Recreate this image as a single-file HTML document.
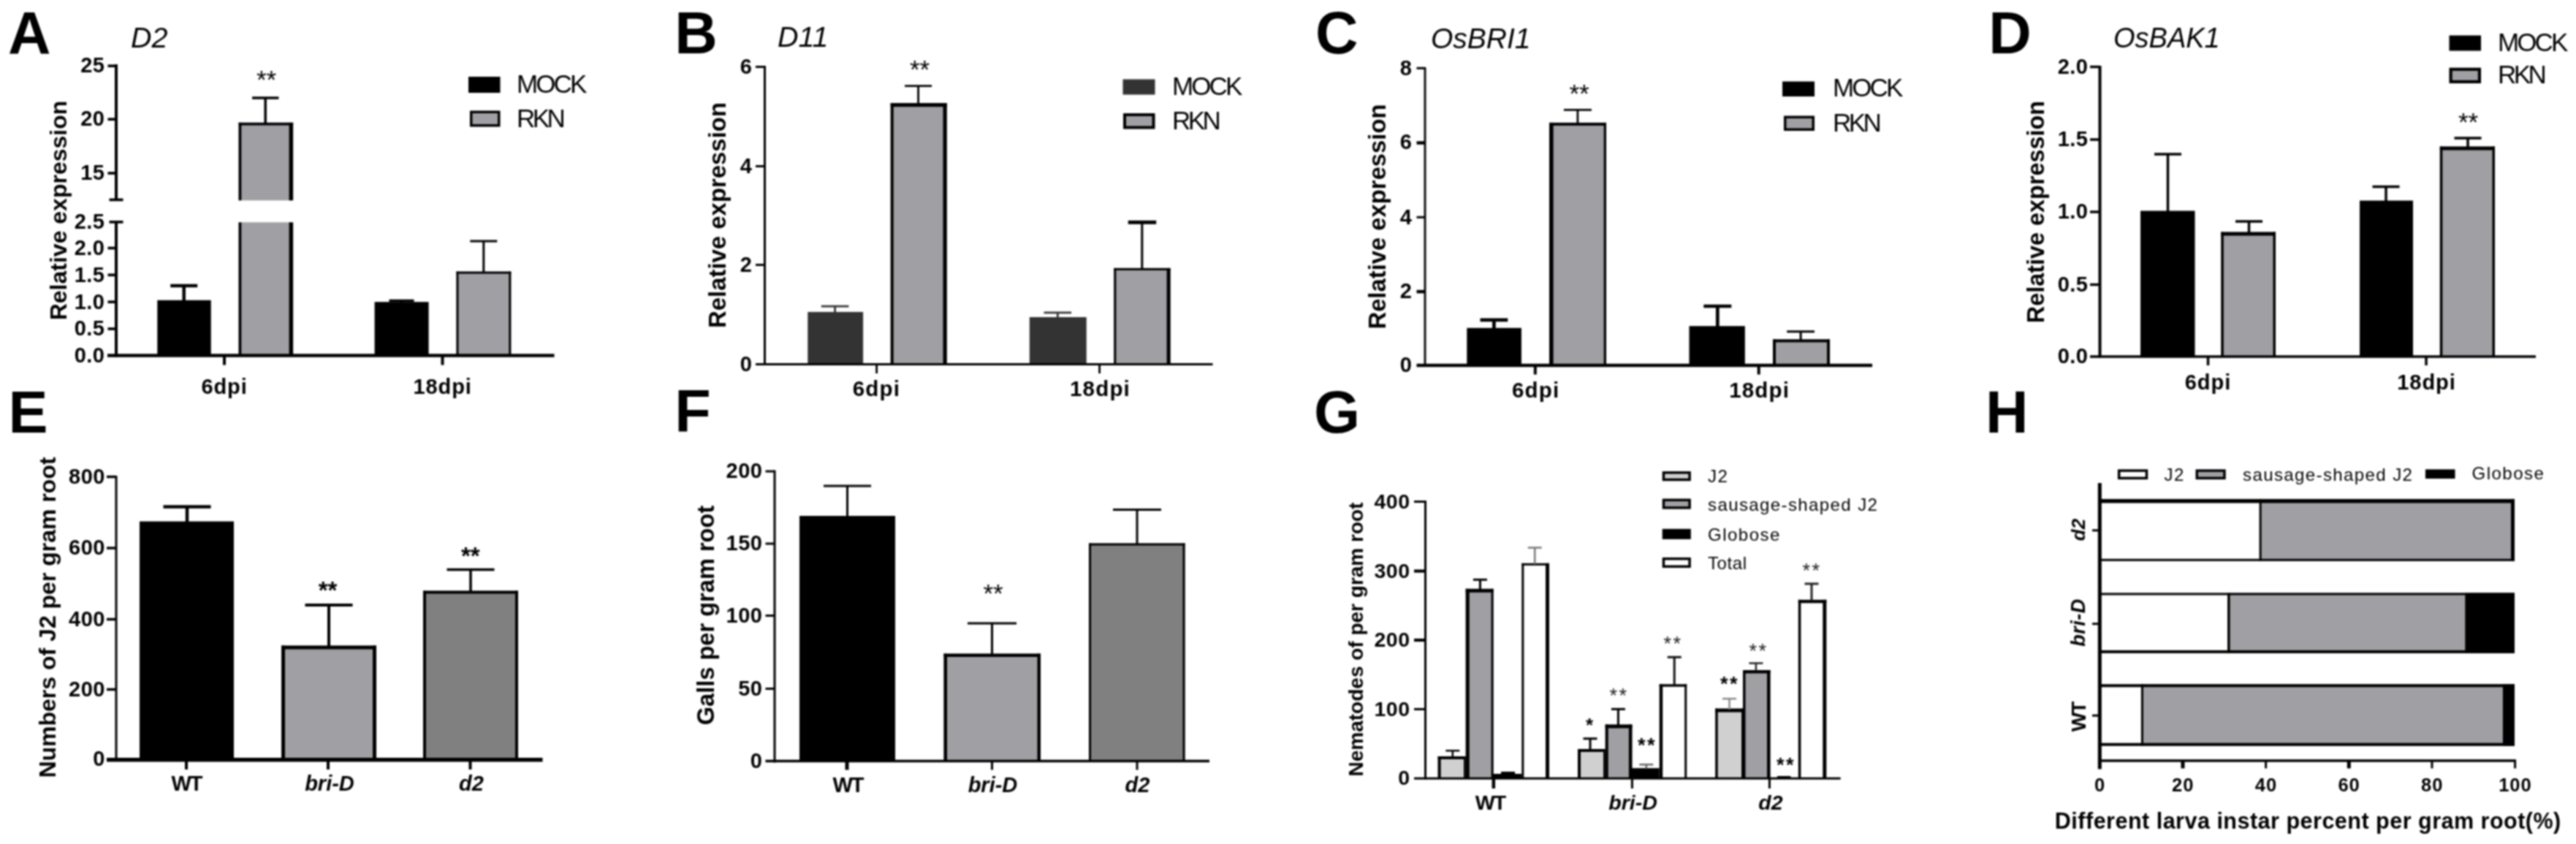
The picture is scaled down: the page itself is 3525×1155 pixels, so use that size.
<!DOCTYPE html>
<html lang="en">
<head>
<meta charset="utf-8">
<title>Figure</title>
<style>
html,body{margin:0;padding:0;background:#fff;}
body{width:3525px;height:1155px;overflow:hidden;}
svg{display:block;font-family:'Liberation Sans', sans-serif;}
</style>
</head>
<body>
<svg width="3525" height="1155" viewBox="0 0 3525 1155">
<rect x="0" y="0" width="3525" height="1155" fill="#fff"/>
<defs><filter id="soft" x="0" y="0" width="3525" height="1155" filterUnits="userSpaceOnUse" color-interpolation-filters="sRGB"><feGaussianBlur stdDeviation="1.0"/></filter></defs>
<g id="fig" filter="url(#soft)">
<text x="40.35" y="72.8" font-size="81" font-weight="bold" text-anchor="middle">A</text>
<text x="179" y="64.5" font-size="39.5" font-style="italic">D2</text>
<rect x="215.3" y="410.8" width="73.4" height="75.7" fill="#000"/>
<rect x="326.6" y="167.8" width="74.5" height="318.7" fill="#a09fa3"/>
<rect x="326.6" y="167.8" width="3.7" height="318.7" fill="#000"/>
<rect x="395.6" y="167.8" width="5.5" height="318.7" fill="#000"/>
<rect x="326.6" y="167.8" width="74.5" height="3.7" fill="#000"/>
<rect x="320" y="274.3" width="90" height="29.9" fill="#fff"/>
<rect x="512.6" y="413.2" width="74" height="73.3" fill="#000"/>
<rect x="624.5" y="371.6" width="74.8" height="114.9" fill="#a09fa3"/>
<rect x="624.5" y="371.6" width="3" height="114.9" fill="#000"/>
<rect x="696.3" y="371.6" width="3" height="114.9" fill="#000"/>
<rect x="624.5" y="371.6" width="74.8" height="3" fill="#000"/>
<line x1="251.7" y1="391" x2="251.7" y2="412" stroke="#000" stroke-width="4.5"/>
<line x1="233.2" y1="391" x2="270.2" y2="391" stroke="#000" stroke-width="4.5"/>
<line x1="363.2" y1="133.9" x2="363.2" y2="169" stroke="#000" stroke-width="3.5"/>
<line x1="345" y1="133.9" x2="381.4" y2="133.9" stroke="#000" stroke-width="3.5"/>
<line x1="549.5" y1="411.5" x2="549.5" y2="414" stroke="#000" stroke-width="3.5"/>
<line x1="532.5" y1="411.5" x2="566.5" y2="411.5" stroke="#000" stroke-width="3.5"/>
<line x1="661.8" y1="330" x2="661.8" y2="373" stroke="#000" stroke-width="3"/>
<line x1="643.3" y1="330" x2="680.3" y2="330" stroke="#000" stroke-width="3"/>
<text x="364.5" y="121.2" font-size="35" text-anchor="middle">**</text>
<line x1="159" y1="88" x2="159" y2="273.5" stroke="#000" stroke-width="4"/>
<line x1="159" y1="304" x2="159" y2="488.5" stroke="#000" stroke-width="4"/>
<line x1="147.5" y1="90.2" x2="159" y2="90.2" stroke="#000" stroke-width="3.7"/>
<line x1="147.5" y1="163.2" x2="159" y2="163.2" stroke="#000" stroke-width="3.7"/>
<line x1="147.5" y1="237" x2="159" y2="237" stroke="#000" stroke-width="3.7"/>
<line x1="149.5" y1="273.4" x2="168.5" y2="273.4" stroke="#000" stroke-width="3.7"/>
<line x1="149.5" y1="303.8" x2="168.5" y2="303.8" stroke="#000" stroke-width="3.7"/>
<line x1="147.5" y1="339.5" x2="159" y2="339.5" stroke="#000" stroke-width="3.7"/>
<line x1="147.5" y1="376.3" x2="159" y2="376.3" stroke="#000" stroke-width="3.7"/>
<line x1="147.5" y1="413.2" x2="159" y2="413.2" stroke="#000" stroke-width="3.7"/>
<line x1="147.5" y1="450" x2="159" y2="450" stroke="#000" stroke-width="3.7"/>
<line x1="147" y1="486.5" x2="758.5" y2="486.5" stroke="#000" stroke-width="4.6"/>
<line x1="307" y1="486.5" x2="307" y2="499.5" stroke="#000" stroke-width="4"/>
<line x1="605.5" y1="486.5" x2="605.5" y2="499.5" stroke="#000" stroke-width="4"/>
<text x="143.5" y="99.18" font-size="29" font-weight="bold" text-anchor="end" letter-spacing="0.5">25</text>
<text x="143.5" y="172.18" font-size="29" font-weight="bold" text-anchor="end" letter-spacing="0.5">20</text>
<text x="143.5" y="245.68" font-size="29" font-weight="bold" text-anchor="end" letter-spacing="0.5">15</text>
<text x="143.5" y="313.18" font-size="29" font-weight="bold" text-anchor="end" letter-spacing="0.5">2.5</text>
<text x="143.5" y="349.18" font-size="29" font-weight="bold" text-anchor="end" letter-spacing="0.5">2.0</text>
<text x="143.5" y="385.68" font-size="29" font-weight="bold" text-anchor="end" letter-spacing="0.5">1.5</text>
<text x="143.5" y="422.68" font-size="29" font-weight="bold" text-anchor="end" letter-spacing="0.5">1.0</text>
<text x="143.5" y="459.18" font-size="29" font-weight="bold" text-anchor="end" letter-spacing="0.5">0.5</text>
<text x="143.5" y="495.68" font-size="29" font-weight="bold" text-anchor="end" letter-spacing="0.5">0.0</text>
<text x="307" y="538.5" font-size="29" font-weight="bold" text-anchor="middle" letter-spacing="0.9">6dpi</text>
<text x="605.7" y="538.5" font-size="29" font-weight="bold" text-anchor="middle" letter-spacing="0.9">18dpi</text>
<text x="91" y="288" font-size="32" font-weight="bold" text-anchor="middle" transform="rotate(-90 91 288)">Relative expression</text>
<rect x="641" y="105" width="43.5" height="22" fill="#000"/>
<text x="707" y="127.4" font-size="35" letter-spacing="-2.9">MOCK</text>
<rect x="644.75" y="153.25" width="38" height="18.5" fill="#a09fa3" stroke="#000" stroke-width="3.5"/>
<text x="707" y="174" font-size="35" letter-spacing="-3.5">RKN</text>
<text x="952.4" y="72.8" font-size="81" font-weight="bold" text-anchor="middle">B</text>
<text x="1064" y="64.3" font-size="39.5" font-style="italic">D11</text>
<rect x="1105.3" y="426.9" width="75.8" height="71.6" fill="#333333"/>
<rect x="1218.7" y="141" width="77" height="357.5" fill="#a09fa3"/>
<rect x="1218.7" y="141" width="4" height="357.5" fill="#000"/>
<rect x="1290.5" y="141" width="5.2" height="357.5" fill="#000"/>
<rect x="1218.7" y="141" width="77" height="5.2" fill="#000"/>
<rect x="1408.8" y="434" width="77.9" height="64.5" fill="#333333"/>
<rect x="1524.3" y="366.9" width="77.3" height="131.6" fill="#a09fa3"/>
<rect x="1524.3" y="366.9" width="3" height="131.6" fill="#000"/>
<rect x="1596.6" y="366.9" width="5" height="131.6" fill="#000"/>
<rect x="1524.3" y="366.9" width="77.3" height="3" fill="#000"/>
<line x1="1142.6" y1="419.2" x2="1142.6" y2="428" stroke="#333" stroke-width="2.8"/>
<line x1="1123.8" y1="419.2" x2="1161.4" y2="419.2" stroke="#333" stroke-width="2.8"/>
<line x1="1256.6" y1="117.6" x2="1256.6" y2="143" stroke="#000" stroke-width="2.8"/>
<line x1="1238.1" y1="117.6" x2="1275.1" y2="117.6" stroke="#000" stroke-width="2.8"/>
<line x1="1447.3" y1="427.9" x2="1447.3" y2="435" stroke="#333" stroke-width="2.8"/>
<line x1="1428.5" y1="427.9" x2="1466.1" y2="427.9" stroke="#333" stroke-width="2.8"/>
<line x1="1562.8" y1="304" x2="1562.8" y2="369" stroke="#000" stroke-width="3"/>
<line x1="1543.7" y1="304.3" x2="1582.2" y2="304.3" stroke="#000" stroke-width="5"/>
<text x="1258.5" y="107" font-size="35" text-anchor="middle">**</text>
<line x1="1046.5" y1="90" x2="1046.5" y2="500" stroke="#000" stroke-width="3"/>
<line x1="1034" y1="91.5" x2="1046.5" y2="91.5" stroke="#000" stroke-width="3"/>
<line x1="1034" y1="227.5" x2="1046.5" y2="227.5" stroke="#000" stroke-width="3"/>
<line x1="1034" y1="362.5" x2="1046.5" y2="362.5" stroke="#000" stroke-width="3"/>
<line x1="1034" y1="498.5" x2="1659.5" y2="498.5" stroke="#000" stroke-width="2.8"/>
<line x1="1199.6" y1="498.5" x2="1199.6" y2="511" stroke="#000" stroke-width="2.8"/>
<line x1="1504.6" y1="498.5" x2="1504.6" y2="511" stroke="#000" stroke-width="2.8"/>
<text x="1029.5" y="100.68" font-size="29" font-weight="bold" text-anchor="end" letter-spacing="0.5">6</text>
<text x="1029.5" y="236.68" font-size="29" font-weight="bold" text-anchor="end" letter-spacing="0.5">4</text>
<text x="1029.5" y="371.68" font-size="29" font-weight="bold" text-anchor="end" letter-spacing="0.5">2</text>
<text x="1029.5" y="507.68" font-size="29" font-weight="bold" text-anchor="end" letter-spacing="0.5">0</text>
<text x="1199.5" y="542.3" font-size="29.5" font-weight="bold" text-anchor="middle" letter-spacing="1.2">6dpi</text>
<text x="1505.5" y="542.3" font-size="29.5" font-weight="bold" text-anchor="middle" letter-spacing="1.2">18dpi</text>
<text x="993" y="294.5" font-size="32.9" font-weight="bold" text-anchor="middle" transform="rotate(-90 993 294.5)">Relative expression</text>
<rect x="1536.5" y="108.5" width="44" height="21" fill="#333333"/>
<text x="1604" y="129.9" font-size="35" letter-spacing="-2.9">MOCK</text>
<rect x="1539" y="157" width="39.5" height="17.5" fill="#a09fa3" stroke="#000" stroke-width="4"/>
<text x="1604" y="177" font-size="35" letter-spacing="-3.5">RKN</text>
<text x="1829.25" y="72.8" font-size="81" font-weight="bold" text-anchor="middle">C</text>
<text x="1958" y="65.5" font-size="39" font-style="italic">OsBRI1</text>
<rect x="2007.3" y="448.8" width="74.6" height="51.2" fill="#000"/>
<rect x="2120" y="167.9" width="78" height="332.1" fill="#a09fa3"/>
<rect x="2120" y="167.9" width="5.6" height="332.1" fill="#000"/>
<rect x="2194.7" y="167.9" width="3.3" height="332.1" fill="#000"/>
<rect x="2120" y="167.9" width="78" height="4" fill="#000"/>
<rect x="2311.5" y="446.2" width="76.3" height="53.8" fill="#000"/>
<rect x="2426" y="464.4" width="78" height="35.6" fill="#a09fa3"/>
<rect x="2426" y="464.4" width="4" height="35.6" fill="#000"/>
<rect x="2500" y="464.4" width="4" height="35.6" fill="#000"/>
<rect x="2426" y="464.4" width="78" height="4" fill="#000"/>
<line x1="2044.4" y1="437.9" x2="2044.4" y2="450" stroke="#000" stroke-width="4.7"/>
<line x1="2025.5" y1="437.9" x2="2063.3" y2="437.9" stroke="#000" stroke-width="4.7"/>
<line x1="2158.9" y1="150.3" x2="2158.9" y2="170" stroke="#000" stroke-width="2.8"/>
<line x1="2139.9" y1="150.3" x2="2177.9" y2="150.3" stroke="#000" stroke-width="2.8"/>
<line x1="2350.3" y1="419" x2="2350.3" y2="447" stroke="#000" stroke-width="4.7"/>
<line x1="2331.3" y1="419" x2="2369.3" y2="419" stroke="#000" stroke-width="4.7"/>
<line x1="2464.1" y1="453.8" x2="2464.1" y2="466" stroke="#000" stroke-width="3"/>
<line x1="2445.2" y1="453.8" x2="2483" y2="453.8" stroke="#000" stroke-width="3"/>
<text x="2161" y="139.5" font-size="35" text-anchor="middle">**</text>
<line x1="1950" y1="92" x2="1950" y2="502" stroke="#000" stroke-width="2.8"/>
<line x1="1938.5" y1="93.3" x2="1950" y2="93.3" stroke="#000" stroke-width="3"/>
<line x1="1938.5" y1="195.5" x2="1950" y2="195.5" stroke="#000" stroke-width="4.5"/>
<line x1="1938.5" y1="297.3" x2="1950" y2="297.3" stroke="#000" stroke-width="3"/>
<line x1="1938.5" y1="399.1" x2="1950" y2="399.1" stroke="#000" stroke-width="4.5"/>
<line x1="1938.5" y1="500" x2="2562" y2="500" stroke="#000" stroke-width="4.7"/>
<line x1="2100.8" y1="500" x2="2100.8" y2="512.5" stroke="#000" stroke-width="4"/>
<line x1="2406.7" y1="500" x2="2406.7" y2="512.5" stroke="#000" stroke-width="4"/>
<text x="1932.5" y="102.68" font-size="29" font-weight="bold" text-anchor="end" letter-spacing="0.5">8</text>
<text x="1932.5" y="204.18" font-size="29" font-weight="bold" text-anchor="end" letter-spacing="0.5">6</text>
<text x="1932.5" y="306.68" font-size="29" font-weight="bold" text-anchor="end" letter-spacing="0.5">4</text>
<text x="1932.5" y="408.18" font-size="29" font-weight="bold" text-anchor="end" letter-spacing="0.5">2</text>
<text x="1932.5" y="509.18" font-size="29" font-weight="bold" text-anchor="end" letter-spacing="0.5">0</text>
<text x="2101.7" y="543.8" font-size="29.5" font-weight="bold" text-anchor="middle" letter-spacing="1.2">6dpi</text>
<text x="2407.7" y="543.8" font-size="29.5" font-weight="bold" text-anchor="middle" letter-spacing="1.2">18dpi</text>
<text x="1896.3" y="296.5" font-size="32.8" font-weight="bold" text-anchor="middle" transform="rotate(-90 1896.3 296.5)">Relative expression</text>
<rect x="2439" y="111.5" width="44" height="20.5" fill="#000"/>
<text x="2508" y="132.4" font-size="35" letter-spacing="-2.9">MOCK</text>
<rect x="2442.75" y="160.25" width="38.5" height="17" fill="#a09fa3" stroke="#000" stroke-width="3.5"/>
<text x="2508" y="179.5" font-size="35" letter-spacing="-3.5">RKN</text>
<text x="2750.5" y="72.8" font-size="81" font-weight="bold" text-anchor="middle">D</text>
<text x="2892" y="65" font-size="38" font-style="italic">OsBAK1</text>
<rect x="2929" y="288.5" width="74.5" height="199.5" fill="#000"/>
<rect x="3039.3" y="317.5" width="74.7" height="170.5" fill="#a09fa3"/>
<rect x="3039.3" y="317.5" width="3.5" height="170.5" fill="#000"/>
<rect x="3110.5" y="317.5" width="3.5" height="170.5" fill="#000"/>
<rect x="3039.3" y="317.5" width="74.7" height="5" fill="#000"/>
<rect x="3229" y="274.5" width="73" height="213.5" fill="#000"/>
<rect x="3338.8" y="200.5" width="75.2" height="287.5" fill="#a09fa3"/>
<rect x="3338.8" y="200.5" width="3.5" height="287.5" fill="#000"/>
<rect x="3410.5" y="200.5" width="3.5" height="287.5" fill="#000"/>
<rect x="3338.8" y="200.5" width="75.2" height="5" fill="#000"/>
<line x1="2966.5" y1="211" x2="2966.5" y2="290" stroke="#000" stroke-width="3.5"/>
<line x1="2948" y1="211" x2="2985" y2="211" stroke="#000" stroke-width="3.5"/>
<line x1="3077.5" y1="303" x2="3077.5" y2="320" stroke="#000" stroke-width="3.5"/>
<line x1="3059" y1="303" x2="3096" y2="303" stroke="#000" stroke-width="3.5"/>
<line x1="3265" y1="255.5" x2="3265" y2="276" stroke="#000" stroke-width="3.5"/>
<line x1="3246.5" y1="255.5" x2="3283.5" y2="255.5" stroke="#000" stroke-width="3.5"/>
<line x1="3377" y1="189" x2="3377" y2="203" stroke="#000" stroke-width="3.5"/>
<line x1="3358.5" y1="189" x2="3395.5" y2="189" stroke="#000" stroke-width="3.5"/>
<text x="3377.5" y="179" font-size="35" text-anchor="middle">**</text>
<line x1="2873.5" y1="90" x2="2873.5" y2="489.5" stroke="#000" stroke-width="4"/>
<line x1="2860" y1="91.5" x2="2873.5" y2="91.5" stroke="#000" stroke-width="3.5"/>
<line x1="2860" y1="191" x2="2873.5" y2="191" stroke="#000" stroke-width="3.5"/>
<line x1="2860" y1="290" x2="2873.5" y2="290" stroke="#000" stroke-width="3.5"/>
<line x1="2860" y1="389.5" x2="2873.5" y2="389.5" stroke="#000" stroke-width="3.5"/>
<line x1="2860" y1="488" x2="3470" y2="488" stroke="#000" stroke-width="3.5"/>
<line x1="3021.5" y1="488" x2="3021.5" y2="500" stroke="#000" stroke-width="3.5"/>
<line x1="3320" y1="488" x2="3320" y2="500" stroke="#000" stroke-width="3.5"/>
<text x="2857.5" y="100.68" font-size="29" font-weight="bold" text-anchor="end" letter-spacing="0.5">2.0</text>
<text x="2857.5" y="200.18" font-size="29" font-weight="bold" text-anchor="end" letter-spacing="0.5">1.5</text>
<text x="2857.5" y="299.18" font-size="29" font-weight="bold" text-anchor="end" letter-spacing="0.5">1.0</text>
<text x="2857.5" y="398.68" font-size="29" font-weight="bold" text-anchor="end" letter-spacing="0.5">0.5</text>
<text x="2857.5" y="497.18" font-size="29" font-weight="bold" text-anchor="end" letter-spacing="0.5">0.0</text>
<text x="3021.5" y="532.5" font-size="29" font-weight="bold" text-anchor="middle" letter-spacing="1">6dpi</text>
<text x="3320.5" y="532.5" font-size="29" font-weight="bold" text-anchor="middle" letter-spacing="1">18dpi</text>
<text x="2797" y="290" font-size="32.4" font-weight="bold" text-anchor="middle" transform="rotate(-90 2797 290)">Relative expression</text>
<rect x="3351.5" y="48.5" width="43.5" height="21" fill="#000"/>
<text x="3418" y="69.9" font-size="35" letter-spacing="-2.9">MOCK</text>
<rect x="3353.6" y="94.8" width="39.3" height="17.1" fill="#a09fa3" stroke="#000" stroke-width="4.2"/>
<text x="3418" y="113.5" font-size="35" letter-spacing="-3.5">RKN</text>
<text x="38.5" y="591.5" font-size="81" font-weight="bold" text-anchor="middle">E</text>
<rect x="191" y="713.5" width="129" height="326.2" fill="#000"/>
<rect x="385" y="883.5" width="130" height="156.2" fill="#a09fa3"/>
<rect x="385" y="883.5" width="5" height="156.2" fill="#000"/>
<rect x="510" y="883.5" width="5" height="156.2" fill="#000"/>
<rect x="385" y="883.5" width="130" height="5" fill="#000"/>
<rect x="579" y="808.5" width="130" height="231.2" fill="#808080"/>
<rect x="579" y="808.5" width="4" height="231.2" fill="#000"/>
<rect x="705" y="808.5" width="4" height="231.2" fill="#000"/>
<rect x="579" y="808.5" width="130" height="4" fill="#000"/>
<line x1="256" y1="693.5" x2="256" y2="715" stroke="#000" stroke-width="4.5"/>
<line x1="223.5" y1="693.5" x2="288.5" y2="693.5" stroke="#000" stroke-width="4.5"/>
<line x1="450" y1="828" x2="450" y2="885" stroke="#000" stroke-width="4"/>
<line x1="417.5" y1="828" x2="482.5" y2="828" stroke="#000" stroke-width="4"/>
<line x1="644" y1="779.5" x2="644" y2="810" stroke="#000" stroke-width="3.5"/>
<line x1="611.5" y1="779.5" x2="676.5" y2="779.5" stroke="#000" stroke-width="3.5"/>
<text x="448.5" y="819.1" font-size="33" font-weight="bold" text-anchor="middle">**</text>
<text x="643.8" y="771.6" font-size="33" font-weight="bold" text-anchor="middle">**</text>
<line x1="159" y1="651" x2="159" y2="1041.7" stroke="#000" stroke-width="3"/>
<line x1="146" y1="652.5" x2="159" y2="652.5" stroke="#000" stroke-width="3.5"/>
<line x1="146" y1="750" x2="159" y2="750" stroke="#000" stroke-width="3.5"/>
<line x1="146" y1="847.5" x2="159" y2="847.5" stroke="#000" stroke-width="3.5"/>
<line x1="146" y1="943.5" x2="159" y2="943.5" stroke="#000" stroke-width="3.5"/>
<line x1="146" y1="1039.7" x2="742.5" y2="1039.7" stroke="#000" stroke-width="5.4"/>
<line x1="255" y1="1039.7" x2="255" y2="1053" stroke="#000" stroke-width="4"/>
<line x1="449" y1="1039.7" x2="449" y2="1053" stroke="#000" stroke-width="4"/>
<line x1="643.5" y1="1039.7" x2="643.5" y2="1053" stroke="#000" stroke-width="4"/>
<text x="144" y="661.68" font-size="29" font-weight="bold" text-anchor="end" letter-spacing="0.5">800</text>
<text x="144" y="759.18" font-size="29" font-weight="bold" text-anchor="end" letter-spacing="0.5">600</text>
<text x="144" y="856.68" font-size="29" font-weight="bold" text-anchor="end" letter-spacing="0.5">400</text>
<text x="144" y="952.68" font-size="29" font-weight="bold" text-anchor="end" letter-spacing="0.5">200</text>
<text x="144" y="1048.18" font-size="29" font-weight="bold" text-anchor="end" letter-spacing="0.5">0</text>
<text x="255" y="1082" font-size="29" font-weight="bold" text-anchor="middle" letter-spacing="-2">WT</text>
<text x="451" y="1082" font-size="29" font-weight="bold" font-style="italic" text-anchor="middle">bri-D</text>
<text x="645" y="1082" font-size="29" font-weight="bold" font-style="italic" text-anchor="middle">d2</text>
<text x="76" y="845" font-size="32" font-weight="bold" text-anchor="middle" transform="rotate(-90 76 845)">Numbers of J2 per gram root</text>
<text x="948" y="591" font-size="81" font-weight="bold" text-anchor="middle">F</text>
<rect x="1094" y="706" width="131" height="335.5" fill="#000"/>
<rect x="1291.5" y="894.5" width="132.5" height="147" fill="#a09fa3"/>
<rect x="1291.5" y="894.5" width="4.5" height="147" fill="#000"/>
<rect x="1419.5" y="894.5" width="4.5" height="147" fill="#000"/>
<rect x="1291.5" y="894.5" width="132.5" height="4.5" fill="#000"/>
<rect x="1490" y="743.5" width="131.5" height="298" fill="#808080"/>
<rect x="1490" y="743.5" width="3" height="298" fill="#000"/>
<rect x="1618.5" y="743.5" width="3" height="298" fill="#000"/>
<rect x="1490" y="743.5" width="131.5" height="3" fill="#000"/>
<line x1="1159.5" y1="665" x2="1159.5" y2="708" stroke="#000" stroke-width="3"/>
<line x1="1127" y1="665" x2="1192" y2="665" stroke="#000" stroke-width="3"/>
<line x1="1357.5" y1="853" x2="1357.5" y2="896" stroke="#000" stroke-width="3"/>
<line x1="1324" y1="853" x2="1391" y2="853" stroke="#000" stroke-width="3"/>
<line x1="1556" y1="697.5" x2="1556" y2="745" stroke="#000" stroke-width="3"/>
<line x1="1523" y1="697.5" x2="1589" y2="697.5" stroke="#000" stroke-width="3"/>
<text x="1359" y="823.5" font-size="35" text-anchor="middle">**</text>
<line x1="1060" y1="643.5" x2="1060" y2="1043.5" stroke="#000" stroke-width="3"/>
<line x1="1047.5" y1="645" x2="1060" y2="645" stroke="#000" stroke-width="3"/>
<line x1="1047.5" y1="744" x2="1060" y2="744" stroke="#000" stroke-width="3"/>
<line x1="1047.5" y1="842.5" x2="1060" y2="842.5" stroke="#000" stroke-width="3"/>
<line x1="1047.5" y1="942.5" x2="1060" y2="942.5" stroke="#000" stroke-width="3"/>
<line x1="1047.5" y1="1041.5" x2="1655" y2="1041.5" stroke="#000" stroke-width="3.3"/>
<line x1="1159" y1="1041.5" x2="1159" y2="1053.5" stroke="#000" stroke-width="5"/>
<line x1="1357.5" y1="1041.5" x2="1357.5" y2="1053.5" stroke="#000" stroke-width="3"/>
<line x1="1556" y1="1041.5" x2="1556" y2="1053.5" stroke="#000" stroke-width="3"/>
<text x="1043.5" y="654.18" font-size="29" font-weight="bold" text-anchor="end" letter-spacing="0.5">200</text>
<text x="1043.5" y="753.18" font-size="29" font-weight="bold" text-anchor="end" letter-spacing="0.5">150</text>
<text x="1043.5" y="851.68" font-size="29" font-weight="bold" text-anchor="end" letter-spacing="0.5">100</text>
<text x="1043.5" y="951.68" font-size="29" font-weight="bold" text-anchor="end" letter-spacing="0.5">50</text>
<text x="1043.5" y="1050.68" font-size="29" font-weight="bold" text-anchor="end" letter-spacing="0.5">0</text>
<text x="1160" y="1083.5" font-size="29" font-weight="bold" text-anchor="middle" letter-spacing="-2">WT</text>
<text x="1358.5" y="1083.5" font-size="29" font-weight="bold" font-style="italic" text-anchor="middle">bri-D</text>
<text x="1556.5" y="1083.5" font-size="29" font-weight="bold" font-style="italic" text-anchor="middle">d2</text>
<text x="976.5" y="842" font-size="32.6" font-weight="bold" text-anchor="middle" transform="rotate(-90 976.5 842)">Galls per gram root</text>
<text x="1829.5" y="591.8" font-size="81" font-weight="bold" text-anchor="middle">G</text>
<rect x="1967.6" y="1035" width="38.4" height="30.3" fill="#d0d0d0"/>
<rect x="1967.6" y="1035" width="4" height="30.3" fill="#000"/>
<rect x="2003" y="1035" width="3" height="30.3" fill="#000"/>
<rect x="1967.6" y="1035" width="38.4" height="4" fill="#000"/>
<rect x="2005.7" y="805.8" width="37.9" height="259.5" fill="#a09fa3"/>
<rect x="2005.7" y="805.8" width="5" height="259.5" fill="#000"/>
<rect x="2040.6" y="805.8" width="3" height="259.5" fill="#000"/>
<rect x="2005.7" y="805.8" width="37.9" height="5" fill="#000"/>
<rect x="2043" y="1059" width="40.6" height="6.3" fill="#000"/>
<rect x="2082.3" y="770.8" width="37.7" height="294.5" fill="#fff"/>
<rect x="2082.3" y="770.8" width="3" height="294.5" fill="#000"/>
<rect x="2115" y="770.8" width="5" height="294.5" fill="#000"/>
<rect x="2082.3" y="770.8" width="37.7" height="3" fill="#000"/>
<rect x="2159" y="1025" width="38" height="40.3" fill="#d0d0d0"/>
<rect x="2159" y="1025" width="4" height="40.3" fill="#000"/>
<rect x="2194" y="1025" width="3" height="40.3" fill="#000"/>
<rect x="2159" y="1025" width="38" height="4" fill="#000"/>
<rect x="2196.7" y="991.5" width="36.7" height="73.8" fill="#a09fa3"/>
<rect x="2196.7" y="991.5" width="4" height="73.8" fill="#000"/>
<rect x="2228.9" y="991.5" width="4.5" height="73.8" fill="#000"/>
<rect x="2196.7" y="991.5" width="36.7" height="5" fill="#000"/>
<rect x="2231.4" y="1051.2" width="41.3" height="14.1" fill="#000"/>
<rect x="2270.7" y="936.3" width="37.5" height="129" fill="#fff"/>
<rect x="2270.7" y="936.3" width="4.5" height="129" fill="#000"/>
<rect x="2305.2" y="936.3" width="3" height="129" fill="#000"/>
<rect x="2270.7" y="936.3" width="37.5" height="3.5" fill="#000"/>
<rect x="2347.2" y="969.6" width="38.8" height="95.7" fill="#d0d0d0"/>
<rect x="2347.2" y="969.6" width="3.5" height="95.7" fill="#000"/>
<rect x="2383" y="969.6" width="3" height="95.7" fill="#000"/>
<rect x="2347.2" y="969.6" width="38.8" height="5" fill="#000"/>
<rect x="2385" y="917" width="37.5" height="148.3" fill="#a09fa3"/>
<rect x="2385" y="917" width="3.5" height="148.3" fill="#000"/>
<rect x="2418" y="917" width="4.5" height="148.3" fill="#000"/>
<rect x="2385" y="917" width="37.5" height="4.5" fill="#000"/>
<rect x="2431.9" y="1062" width="18.5" height="3.3" fill="#000"/>
<rect x="2460.8" y="820.8" width="38.5" height="244.5" fill="#fff"/>
<rect x="2460.8" y="820.8" width="3.5" height="244.5" fill="#000"/>
<rect x="2494.3" y="820.8" width="5" height="244.5" fill="#000"/>
<rect x="2460.8" y="820.8" width="38.5" height="4.5" fill="#000"/>
<line x1="1987.8" y1="1027.3" x2="1987.8" y2="1036" stroke="#000" stroke-width="2.5"/>
<line x1="1978.3" y1="1027.3" x2="1997.3" y2="1027.3" stroke="#000" stroke-width="2.5"/>
<line x1="2025.4" y1="793.3" x2="2025.4" y2="807" stroke="#000" stroke-width="3"/>
<line x1="2015.9" y1="793.3" x2="2034.9" y2="793.3" stroke="#000" stroke-width="3"/>
<line x1="2063.5" y1="1057.5" x2="2063.5" y2="1060" stroke="#000" stroke-width="3"/>
<line x1="2054" y1="1057.5" x2="2073" y2="1057.5" stroke="#000" stroke-width="3"/>
<line x1="2100.2" y1="749.5" x2="2100.2" y2="772" stroke="#777" stroke-width="2.5"/>
<line x1="2090.7" y1="749.5" x2="2109.7" y2="749.5" stroke="#777" stroke-width="2.5"/>
<line x1="2176" y1="1010.8" x2="2176" y2="1026" stroke="#000" stroke-width="3"/>
<line x1="2166.5" y1="1010.8" x2="2185.5" y2="1010.8" stroke="#000" stroke-width="3"/>
<line x1="2214.4" y1="970.4" x2="2214.4" y2="993" stroke="#000" stroke-width="3"/>
<line x1="2204.9" y1="970.4" x2="2223.9" y2="970.4" stroke="#000" stroke-width="3"/>
<line x1="2252.8" y1="1046.3" x2="2252.8" y2="1052" stroke="#666" stroke-width="2.5"/>
<line x1="2243.3" y1="1046.3" x2="2262.3" y2="1046.3" stroke="#666" stroke-width="2.5"/>
<line x1="2291.2" y1="899.3" x2="2291.2" y2="937" stroke="#111" stroke-width="3"/>
<line x1="2281.7" y1="899.3" x2="2300.7" y2="899.3" stroke="#111" stroke-width="3"/>
<line x1="2366.5" y1="956.2" x2="2366.5" y2="971" stroke="#888" stroke-width="2.5"/>
<line x1="2357" y1="956.2" x2="2376" y2="956.2" stroke="#888" stroke-width="2.5"/>
<line x1="2402.9" y1="907.6" x2="2402.9" y2="918" stroke="#222" stroke-width="2.5"/>
<line x1="2393.4" y1="907.6" x2="2412.4" y2="907.6" stroke="#222" stroke-width="2.5"/>
<line x1="2479" y1="798.9" x2="2479" y2="822" stroke="#222" stroke-width="3"/>
<line x1="2469.5" y1="798.9" x2="2488.5" y2="798.9" stroke="#222" stroke-width="3"/>
<text x="2175.1" y="1001.2" font-size="26" font-weight="bold" text-anchor="middle">*</text>
<text x="2215.5" y="961.4" font-size="27" text-anchor="middle" letter-spacing="2.5" fill="#222">**</text>
<text x="2254" y="1029.2" font-size="27" font-weight="bold" text-anchor="middle" letter-spacing="2.5">**</text>
<text x="2289.5" y="890.4" font-size="27" text-anchor="middle" letter-spacing="2.5" fill="#222">**</text>
<text x="2367" y="945.3" font-size="27" font-weight="bold" text-anchor="middle" letter-spacing="2.5">**</text>
<text x="2406.5" y="899.7" font-size="27" text-anchor="middle" letter-spacing="2.5" fill="#222">**</text>
<text x="2444" y="1056.4" font-size="27" font-weight="bold" text-anchor="middle" letter-spacing="2.5">**</text>
<text x="2479.5" y="789.9" font-size="27" text-anchor="middle" letter-spacing="2.5" fill="#222">**</text>
<line x1="1950.5" y1="685" x2="1950.5" y2="1066.8" stroke="#000" stroke-width="3"/>
<line x1="1935" y1="686.5" x2="1950.5" y2="686.5" stroke="#000" stroke-width="3"/>
<line x1="1935" y1="781.5" x2="1950.5" y2="781.5" stroke="#000" stroke-width="4.2"/>
<line x1="1935" y1="876" x2="1950.5" y2="876" stroke="#000" stroke-width="4.2"/>
<line x1="1935" y1="970.5" x2="1950.5" y2="970.5" stroke="#000" stroke-width="3"/>
<line x1="1935" y1="1065.3" x2="2518.6" y2="1065.3" stroke="#000" stroke-width="3"/>
<line x1="2043.8" y1="1065.3" x2="2043.8" y2="1079" stroke="#000" stroke-width="4.5"/>
<line x1="2233.4" y1="1065.3" x2="2233.4" y2="1079" stroke="#000" stroke-width="3"/>
<line x1="2421.4" y1="1065.3" x2="2421.4" y2="1079" stroke="#000" stroke-width="3"/>
<text x="1929.5" y="695.5" font-size="28.5" font-weight="bold" text-anchor="end" letter-spacing="0.5">400</text>
<text x="1929.5" y="790.5" font-size="28.5" font-weight="bold" text-anchor="end" letter-spacing="0.5">300</text>
<text x="1929.5" y="885" font-size="28.5" font-weight="bold" text-anchor="end" letter-spacing="0.5">200</text>
<text x="1929.5" y="979.5" font-size="28.5" font-weight="bold" text-anchor="end" letter-spacing="0.5">100</text>
<text x="1929.5" y="1074" font-size="28.5" font-weight="bold" text-anchor="end" letter-spacing="0.5">0</text>
<text x="2039" y="1107.5" font-size="28.5" font-weight="bold" text-anchor="middle" letter-spacing="-2">WT</text>
<text x="2234.5" y="1107.5" font-size="28.5" font-weight="bold" font-style="italic" text-anchor="middle">bri-D</text>
<text x="2423" y="1107.5" font-size="28.5" font-weight="bold" font-style="italic" text-anchor="middle">d2</text>
<text x="1864.5" y="875" font-size="28" font-weight="bold" text-anchor="middle" transform="rotate(-90 1864.5 875)">Nematodes of per gram root</text>
<rect x="2276.45" y="646.75" width="35.6" height="9.7" fill="#d0d0d0" stroke="#000" stroke-width="3.5"/>
<text x="2337" y="660.2" font-size="24" letter-spacing="1.4">J2</text>
<rect x="2276.45" y="684.25" width="35.6" height="10.6" fill="#a09fa3" stroke="#000" stroke-width="3.5"/>
<text x="2337" y="698.6" font-size="24" letter-spacing="1.4">sausage-shaped J2</text>
<rect x="2274.7" y="723.8" width="39.1" height="14.1" fill="#000"/>
<text x="2337" y="739.9" font-size="24" letter-spacing="1.5">Globose</text>
<rect x="2276.45" y="764.65" width="35.6" height="10.6" fill="#fff" stroke="#000" stroke-width="3.5"/>
<text x="2337" y="779" font-size="24" letter-spacing="0.6">Total</text>
<text x="2746.25" y="591.5" font-size="81" font-weight="bold" text-anchor="middle">H</text>
<rect x="2873.3" y="682.9" width="567.7" height="84.9" fill="#fff"/>
<rect x="3093.1" y="682.9" width="347.9" height="84.9" fill="#a09fa3"/>
<rect x="2873.3" y="682.9" width="567.7" height="5.5" fill="#000"/>
<rect x="2873.3" y="764.8" width="567.7" height="3" fill="#000"/>
<rect x="3091.6" y="682.9" width="3" height="84.9" fill="#000"/>
<rect x="3436" y="682.9" width="5" height="84.9" fill="#000"/>
<rect x="2873.3" y="811.4" width="567.7" height="82.5" fill="#fff"/>
<rect x="3049.8" y="811.4" width="323.4" height="82.5" fill="#a09fa3"/>
<rect x="3373.2" y="811.4" width="67.8" height="82.5" fill="#000"/>
<rect x="2873.3" y="811.4" width="567.7" height="3" fill="#000"/>
<rect x="2873.3" y="889.9" width="567.7" height="4" fill="#000"/>
<rect x="3048.05" y="811.4" width="3.5" height="82.5" fill="#000"/>
<rect x="2873.3" y="936.3" width="567.7" height="84.5" fill="#fff"/>
<rect x="2931.4" y="936.3" width="493.4" height="84.5" fill="#a09fa3"/>
<rect x="3424.8" y="936.3" width="16.2" height="84.5" fill="#000"/>
<rect x="2873.3" y="936.3" width="567.7" height="4" fill="#000"/>
<rect x="2873.3" y="1016.8" width="567.7" height="4" fill="#000"/>
<rect x="2929.9" y="936.3" width="3" height="84.5" fill="#000"/>
<line x1="2873.3" y1="661" x2="2873.3" y2="1052.5" stroke="#000" stroke-width="5"/>
<line x1="2873.3" y1="1041" x2="3443" y2="1041" stroke="#000" stroke-width="3.5"/>
<line x1="2986.96" y1="1041" x2="2986.96" y2="1051.5" stroke="#000" stroke-width="5"/>
<line x1="3100.62" y1="1041" x2="3100.62" y2="1051.5" stroke="#000" stroke-width="3"/>
<line x1="3214.28" y1="1041" x2="3214.28" y2="1051.5" stroke="#000" stroke-width="5"/>
<line x1="3327.94" y1="1041" x2="3327.94" y2="1051.5" stroke="#000" stroke-width="3"/>
<line x1="3441.6" y1="1041" x2="3441.6" y2="1051.5" stroke="#000" stroke-width="3"/>
<line x1="2863" y1="725.8" x2="2873.3" y2="725.8" stroke="#000" stroke-width="3"/>
<line x1="2863" y1="853.7" x2="2873.3" y2="853.7" stroke="#000" stroke-width="3"/>
<line x1="2863" y1="979.2" x2="2873.3" y2="979.2" stroke="#000" stroke-width="3"/>
<text x="2873.6" y="1083" font-size="25.5" font-weight="bold" text-anchor="middle" letter-spacing="1">0</text>
<text x="2987.26" y="1083" font-size="25.5" font-weight="bold" text-anchor="middle" letter-spacing="1">20</text>
<text x="3100.92" y="1083" font-size="25.5" font-weight="bold" text-anchor="middle" letter-spacing="1">40</text>
<text x="3214.58" y="1083" font-size="25.5" font-weight="bold" text-anchor="middle" letter-spacing="1">60</text>
<text x="3328.24" y="1083" font-size="25.5" font-weight="bold" text-anchor="middle" letter-spacing="1">80</text>
<text x="3441.9" y="1083" font-size="25.5" font-weight="bold" text-anchor="middle" letter-spacing="1">100</text>
<text x="2852.5" y="725" font-size="26" font-weight="bold" font-style="italic" text-anchor="middle" transform="rotate(-90 2852.5 725)">d2</text>
<text x="2852.5" y="852" font-size="27" font-weight="bold" font-style="italic" text-anchor="middle" transform="rotate(-90 2852.5 852)" letter-spacing="0.5">bri-D</text>
<text x="2853.5" y="981.5" font-size="28" font-weight="bold" text-anchor="middle" transform="rotate(-90 2853.5 981.5)" letter-spacing="-2">WT</text>
<text x="3158.3" y="1134" font-size="30.5" font-weight="bold" text-anchor="middle" letter-spacing="0.5">Different larva instar percent per gram root(%)</text>
<rect x="2899.65" y="644.05" width="37.8" height="10.3" fill="#fff" stroke="#000" stroke-width="3.5"/>
<text x="2961.5" y="658" font-size="24" letter-spacing="1.4">J2</text>
<rect x="3006.25" y="644.05" width="37.7" height="10.3" fill="#a09fa3" stroke="#000" stroke-width="3.5"/>
<text x="3069" y="658" font-size="24" letter-spacing="1.4">sausage-shaped J2</text>
<rect x="3318.9" y="642.3" width="40.6" height="12.7" fill="#000"/>
<text x="3382.5" y="656.3" font-size="24" letter-spacing="1.5">Globose</text>
</g>
</svg>
</body>
</html>
